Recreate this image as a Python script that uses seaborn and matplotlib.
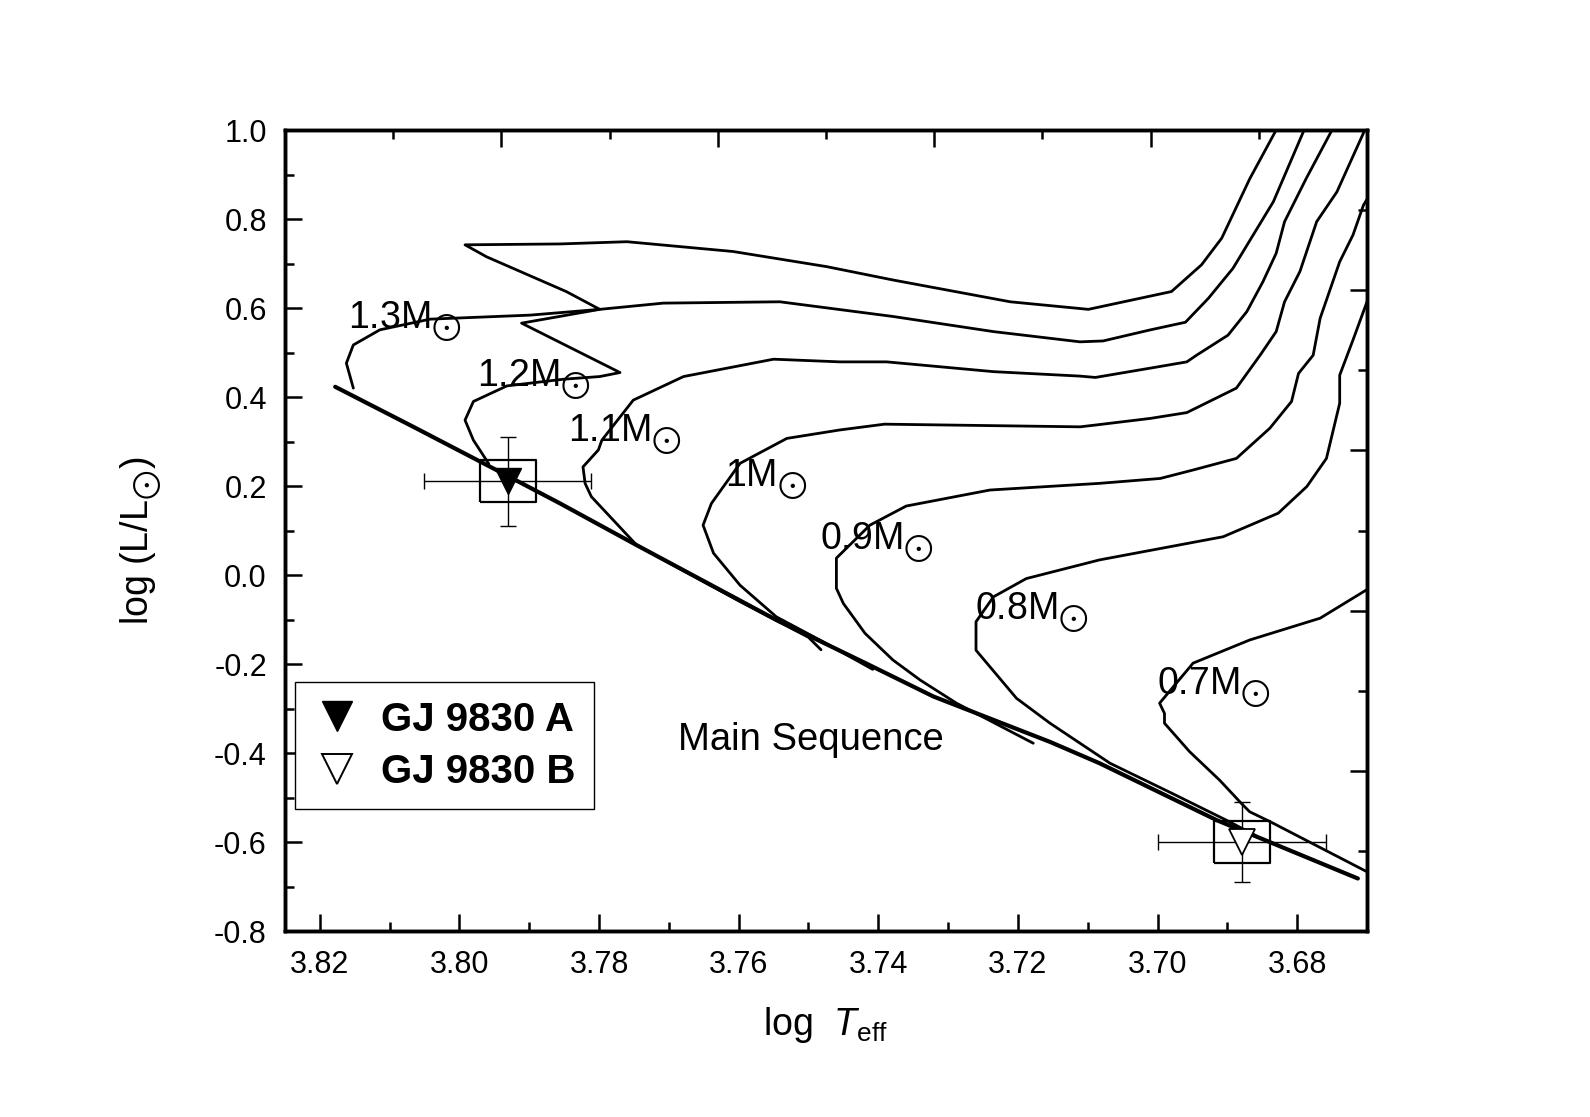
import numpy as np
import pandas as pd
import matplotlib
matplotlib.use('Agg')
import matplotlib.pyplot as plt
from matplotlib.lines import Line2D
from matplotlib.ticker import MultipleLocator
import seaborn as sns

# ---- data (log Teff, log L/Lsun) ----
zams_T = [3.8178, 3.8066, 3.7952, 3.7856, 3.7746, 3.7546, 3.7417, 3.7321, 3.7154, 3.7083, 3.6915, 3.6713]
zams_L = [0.423, 0.333, 0.240, 0.161, 0.067, -0.101, -0.199, -0.273, -0.375, -0.423, -0.551, -0.682]

t13_T = [3.8152, 3.8162, 3.8152, 3.8114, 3.8042, 3.7899, 3.7799, 3.7847, 3.7961, 3.7992, 3.7856, 3.7760,
         3.7608, 3.7474, 3.7379, 3.7211, 3.7099, 3.6980, 3.6937, 3.6908, 3.6868, 3.6830]
t13_L = [0.420, 0.476, 0.517, 0.551, 0.575, 0.584, 0.597, 0.637, 0.715, 0.742, 0.744, 0.749,
         0.727, 0.693, 0.663, 0.614, 0.597, 0.637, 0.697, 0.757, 0.890, 1.000]

t12_T = [3.7958, 3.7980, 3.7992, 3.7980, 3.7932, 3.7851, 3.7799, 3.7770, 3.7911, 3.7799, 3.7708, 3.7541,
         3.7379, 3.7235, 3.7111, 3.7078, 3.7010, 3.6960, 3.6927, 3.6892, 3.6863, 3.6834, 3.6790]
t12_L = [0.250, 0.303, 0.348, 0.390, 0.425, 0.440, 0.446, 0.455, 0.566, 0.597, 0.611, 0.614,
         0.581, 0.547, 0.524, 0.526, 0.551, 0.568, 0.622, 0.689, 0.764, 0.839, 1.000]

t11_T = [3.7482, 3.7500, 3.7600, 3.7746, 3.7780, 3.7811, 3.7820, 3.7823, 3.7801, 3.7796, 3.7751, 3.7679,
         3.7550, 3.7455, 3.7388, 3.7235, 3.7111, 3.7089, 3.7010, 3.6958, 3.6944, 3.6899, 3.6872, 3.6849,
         3.6830, 3.6818, 3.6787, 3.6750]
t11_L = [-0.168, -0.140, -0.058, 0.067, 0.124, 0.176, 0.206, 0.243, 0.281, 0.303, 0.393, 0.446,
         0.485, 0.479, 0.479, 0.457, 0.447, 0.444, 0.465, 0.479, 0.494, 0.539, 0.592, 0.659,
         0.723, 0.794, 0.891, 1.000]

t10_T = [3.7408, 3.7479, 3.7546, 3.7598, 3.7636, 3.7651, 3.7639, 3.7598, 3.7531, 3.7455, 3.7391, 3.7111,
         3.7089, 3.7010, 3.6958, 3.6887, 3.6853, 3.6830, 3.6818, 3.6796, 3.6772, 3.6743, 3.6703]
t10_L = [-0.212, -0.150, -0.094, -0.023, 0.049, 0.112, 0.161, 0.251, 0.307, 0.326, 0.339, 0.333,
         0.337, 0.352, 0.365, 0.420, 0.494, 0.547, 0.614, 0.682, 0.794, 0.861, 1.000]

t09_T = [3.7178, 3.7288, 3.7340, 3.7379, 3.7419, 3.7450, 3.7460, 3.7460, 3.7412, 3.7360, 3.7240, 3.7083,
         3.6996, 3.6949, 3.6887, 3.6839, 3.6808, 3.6798, 3.6777, 3.6767, 3.6739, 3.6720, 3.6705, 3.6690]
t09_L = [-0.378, -0.288, -0.236, -0.191, -0.131, -0.064, -0.030, 0.038, 0.112, 0.155, 0.191, 0.206,
         0.217, 0.236, 0.262, 0.330, 0.390, 0.453, 0.494, 0.577, 0.704, 0.764, 0.831, 0.870]

t08_T = [3.6860, 3.6900, 3.6980, 3.7068, 3.7154, 3.7202, 3.7260, 3.7260, 3.7235, 3.7188, 3.7083, 3.6906,
         3.6827, 3.6786, 3.6758, 3.6739, 3.6739, 3.6720, 3.6698, 3.6690]
t08_L = [-0.585, -0.552, -0.490, -0.423, -0.333, -0.277, -0.169, -0.105, -0.049, -0.008, 0.034, 0.086,
         0.139, 0.199, 0.262, 0.386, 0.449, 0.528, 0.622, 0.640]

t07_T = [3.6696, 3.6839, 3.6868, 3.6880, 3.6911, 3.6954, 3.6990, 3.6990, 3.6997, 3.6949, 3.6868, 3.6767, 3.6695]
t07_L = [-0.670, -0.554, -0.532, -0.513, -0.461, -0.397, -0.333, -0.311, -0.288, -0.198, -0.146, -0.097, -0.028]

masses = ['1.3', '1.2', '1.1', '1', '0.9', '0.8', '0.7']
track_T = [t13_T, t12_T, t11_T, t10_T, t09_T, t08_T, t07_T]
track_L = [t13_L, t12_L, t11_L, t10_L, t09_L, t08_L, t07_L]
# label anchors (left, baseline)
label_T = [3.8160, 3.7975, 3.7844, 3.7620, 3.7484, 3.7262, 3.7001]
label_L = [0.554, 0.423, 0.300, 0.199, 0.056, -0.101, -0.270]

star_names = ['GJ 9830 A', 'GJ 9830 B']
star_T = [3.7931, 3.6879]
star_L = [0.211, -0.600]
star_Terr = [0.012, 0.012]
star_Lerr = [0.10, 0.09]

rows = []
for m, T, L in zip(masses, track_T, track_L):
    for i, (t, l) in enumerate(zip(T, L)):
        rows.append((m, i, t, l))
tracks = pd.DataFrame(rows, columns=['mass', 'step', 'logT', 'logL'])
zams = pd.DataFrame({'logT': zams_T, 'logL': zams_L})

sns.set_theme(style='white')
plt.rcParams['font.family'] = ['Liberation Sans', 'DejaVu Sans']
plt.rcParams['mathtext.fontset'] = 'custom'
plt.rcParams['mathtext.rm'] = 'Liberation Sans'
plt.rcParams['mathtext.it'] = 'Liberation Sans:italic'
plt.rcParams['mathtext.bf'] = 'Liberation Sans:bold'
plt.rcParams['mathtext.fallback'] = 'stix'
for k in ['text.color', 'axes.labelcolor', 'axes.edgecolor', 'xtick.color', 'ytick.color']:
    plt.rcParams[k] = 'black'

SUN = r'$_{\bigodot}$'

fig = plt.figure(figsize=(15.9, 11.17), dpi=100)
ax = fig.add_axes([0.1792, 0.1665, 0.6805, 0.7171])

sns.lineplot(data=tracks, x='logT', y='logL', units='mass', estimator=None, sort=False,
             color='black', lw=2.0, ax=ax)
sns.lineplot(data=zams, x='logT', y='logL', estimator=None, sort=False,
             color='black', lw=3.0, ax=ax)

for m, t, l in zip(masses, label_T, label_L):
    ax.text(t, l, m + 'M' + SUN, fontsize=27, ha='left', va='baseline')
ax.text(3.7687, -0.394, 'Main Sequence', fontsize=27.5, ha='left', va='baseline')

# error bars and boxes
ax.errorbar(star_T, star_L, xerr=star_Terr, yerr=star_Lerr, fmt='none', ecolor='black',
            elinewidth=1.0, capsize=6, capthick=1.0, zorder=4)
box = [(-1, -0.737), (1, -0.737), (1, 0.737), (-1, 0.737), (-1, -0.737)]
ax.plot(star_T, star_L, ls='none', marker=box, markersize=41, mfc='none', mec='black', mew=1.6, zorder=5)
ax.plot(star_T[0], star_L[0], ls='none', marker='v', markersize=19, color='black', zorder=6)
ax.plot(star_T[1], star_L[1], ls='none', marker='v', markersize=19, mfc='white', mec='black',
        mew=1.3, zorder=6)

ax.set_xlim(3.825, 3.670)
ax.set_ylim(-0.8, 1.0)
ax.xaxis.set_major_locator(MultipleLocator(0.02))
ax.xaxis.set_minor_locator(MultipleLocator(0.01))
ax.yaxis.set_major_locator(MultipleLocator(0.2))
ax.yaxis.set_minor_locator(MultipleLocator(0.1))
ax.xaxis.set_major_formatter(plt.FormatStrFormatter('%.2f'))
ax.yaxis.set_major_formatter(plt.FormatStrFormatter('%.1f'))
ax.tick_params(which='both', direction='in', width=1.8, colors='black', labelsize=22)
ax.tick_params(which='major', length=12)
ax.tick_params(which='minor', length=6.5)
ax.tick_params(axis='x', pad=14)
ax.tick_params(axis='y', pad=13)
for s in ax.spines.values():
    s.set_linewidth(2.4)
    s.set_color('black')

ax_top = ax.twiny()
ax_top.set_xlim(0, 5)
ax_right = ax.twinx()
ax_right.set_ylim(0, 5)
for a, which in [(ax_top, 'x'), (ax_right, 'y')]:
    axis = a.xaxis if which == 'x' else a.yaxis
    axis.set_major_locator(MultipleLocator(1))
    axis.set_minor_locator(MultipleLocator(0.5))
    a.tick_params(axis=which, which='both', direction='in', width=1.8, colors='black',
                  labeltop=False, labelright=False, labelbottom=False, labelleft=False)
    a.tick_params(axis=which, which='major', length=12)
    a.tick_params(axis=which, which='minor', length=6.5)
    for s in a.spines.values():
        s.set_linewidth(2.4)
        s.set_color('black')
ax_top.tick_params(axis='y', left=False, right=False, labelleft=False)
ax_right.tick_params(axis='x', top=False, bottom=False, labelbottom=False)

ax.set_xlabel(r'log  $T_{\rm eff}$', fontsize=27, labelpad=18)
ax.set_ylabel(r'log (L/L' + SUN + ')', fontsize=27, labelpad=36)
ax.yaxis.label.set_y(0.487)

handles = [Line2D([], [], ls='none', marker='v', markersize=22, color='black'),
           Line2D([], [], ls='none', marker='v', markersize=22, mfc='white', mec='black', mew=1.4)]
leg = ax.legend(handles, star_names, loc='upper left', bbox_to_anchor=(0.0092, 0.3104),
                prop=dict(weight='bold', size=29), frameon=True, fancybox=False,
                edgecolor='black', framealpha=1, borderpad=0.45, handletextpad=0.5,
                labelspacing=0.36, handlelength=1.2, borderaxespad=0)
leg.get_frame().set_linewidth(1.0)

fig.savefig('out.png', dpi=100)
